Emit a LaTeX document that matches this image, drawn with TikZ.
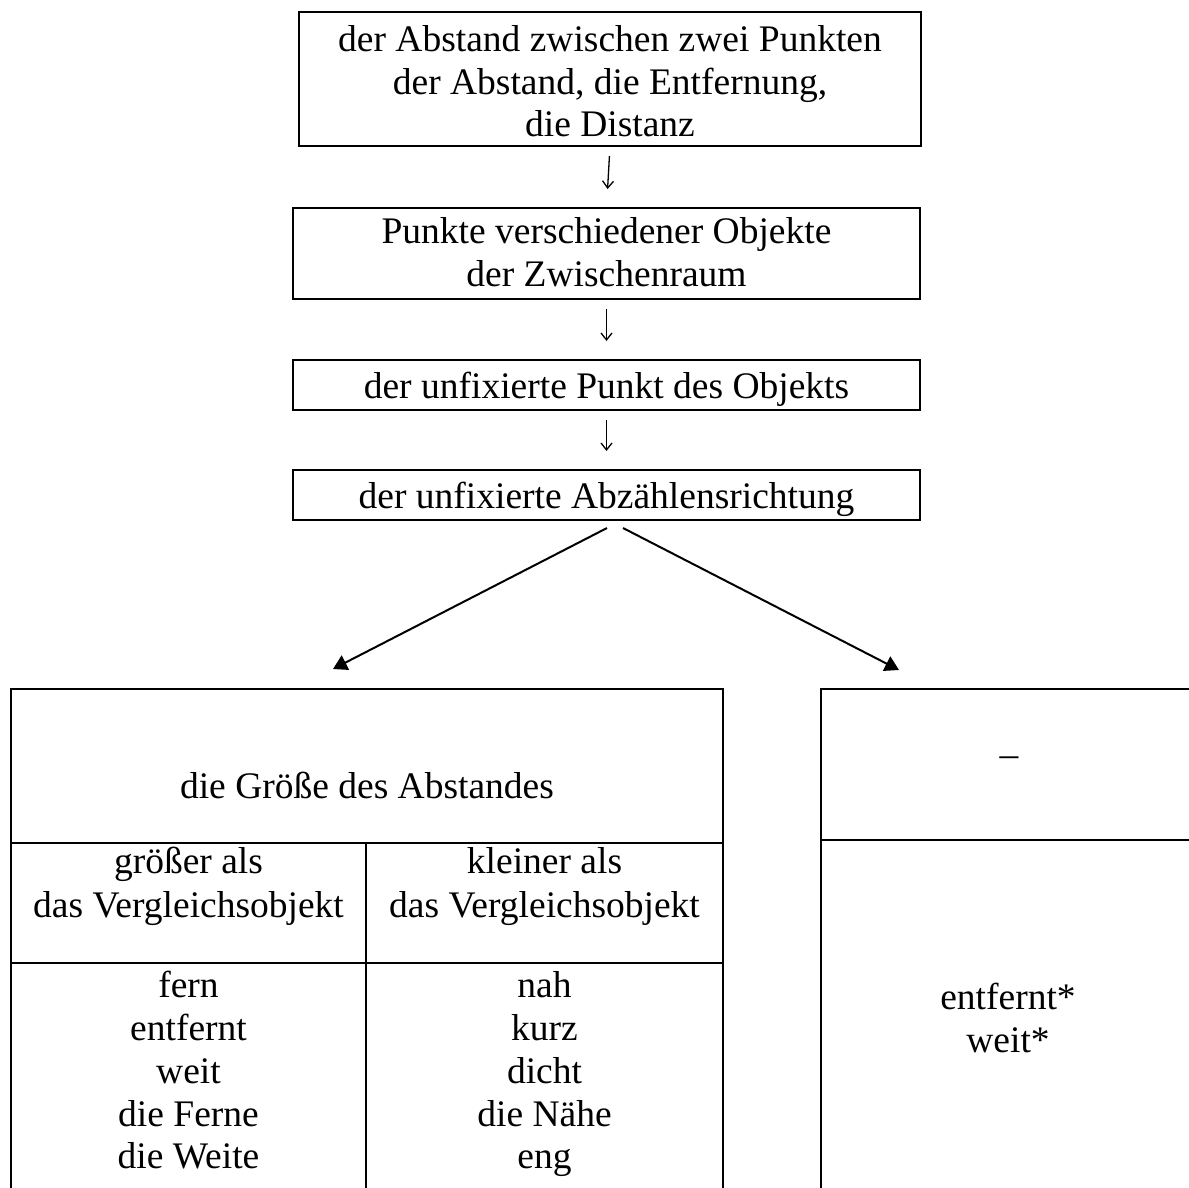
\documentclass[tikz,border=0pt]{standalone}
\usepackage{fontspec}
\setmainfont{Liberation Serif}
\usetikzlibrary{arrows.meta,calc}
\begin{document}
\begin{tikzpicture}[x=1pt,y=-1pt,
  txt/.style={inner sep=0pt,outer sep=0pt,anchor=base,font=\fontsize{37.5}{42.5}\selectfont},
  boxnode/.style={draw,line width=2pt,inner sep=0pt,outer sep=0pt},
  flowarrow/.style={line width=1.3pt,-{Straight Barb[length=7pt,width=11pt,line width=1.3pt]},shorten <=10pt,shorten >=19pt},
  diagarrow/.style={line width=2pt,-{Triangle[length=14pt,width=16pt]}},
  rule/.style={line width=2pt}]
\useasboundingbox (0,0) rectangle (1189,1187);
\clip (0,0) rectangle (1189,1187);
% flow boxes
\node[boxnode,minimum width=622pt,minimum height=134pt] (b1) at (610,79) {};
\node[boxnode,minimum width=627pt,minimum height=91pt] (b2) at (606.5,253.5) {};
\node[boxnode,minimum width=627pt,minimum height=50pt] (b3) at (606.5,385) {};
\node[boxnode,minimum width=627pt,minimum height=50pt] (b4) at (606.5,495) {};
\node[txt] (t1a) at (610,51) {der Abstand zwischen zwei Punkten};
\node[txt] (t1b) at (610,94) {der Abstand, die Entfernung,};
\node[txt] (t1c) at (610,136) {die Distanz};
\node[txt] (t2a) at (606.5,243) {Punkte verschiedener Objekte};
\node[txt] (t2b) at (606.5,286) {der Zwischenraum};
\node[txt] (t3) at (606.5,398) {der unfixierte Punkt des Objekts};
\node[txt] (t4) at (606.5,508) {der unfixierte Abzählensrichtung};
% vertical arrows
\draw[flowarrow] (b1.south) -- (b2.north);
\draw[flowarrow] (b2.south) -- (b3.north);
\draw[flowarrow] (b3.south) -- (b4.north);
% diagonal arrows
\coordinate (s1) at (607,528);
\coordinate (s2) at (623,528);
\coordinate (e1) at (333,669);
\coordinate (e2) at (899,670);
\draw[diagarrow] (s1) -- (e1);
\draw[diagarrow] (s2) -- (e2);
% left table
\draw[rule] (11,1200) -- (11,689) -- (723,689) -- (723,1200);
\draw[rule] (11,843) -- (723,843);
\draw[rule] (11,963) -- (723,963);
\draw[rule] (366,843) -- (366,1200);
\node[txt] (g0) at (367,798) {die Größe des Abstandes};
\node[txt] (g1a) at (188.5,873) {größer als};
\node[txt] (g1b) at (188.5,917) {das Vergleichsobjekt};
\node[txt] (k1a) at (544.5,873) {kleiner als};
\node[txt] (k1b) at (544.5,917) {das Vergleichsobjekt};
\node[txt] (f1) at (188.5,997) {fern};
\node[txt] (f2) at (188.5,1040) {entfernt};
\node[txt] (f3) at (188.5,1083) {weit};
\node[txt] (f4) at (188.5,1126) {die Ferne};
\node[txt] (f5) at (188.5,1168) {die Weite};
\node[txt] (n1) at (544.5,997) {nah};
\node[txt] (n2) at (544.5,1040) {kurz};
\node[txt] (n3) at (544.5,1083) {dicht};
\node[txt] (n4) at (544.5,1126) {die Nähe};
\node[txt] (n5) at (544.5,1168) {eng};
% right table
\draw[rule] (821,1200) -- (821,689) -- (1200,689);
\draw[rule] (821,840) -- (1200,840);
\node[txt] (r0) at (1009,766) {–};
\node[txt] (r1) at (1008,1009) {entfernt*};
\node[txt] (r2) at (1008,1052) {weit*};
\end{tikzpicture}
\end{document}
